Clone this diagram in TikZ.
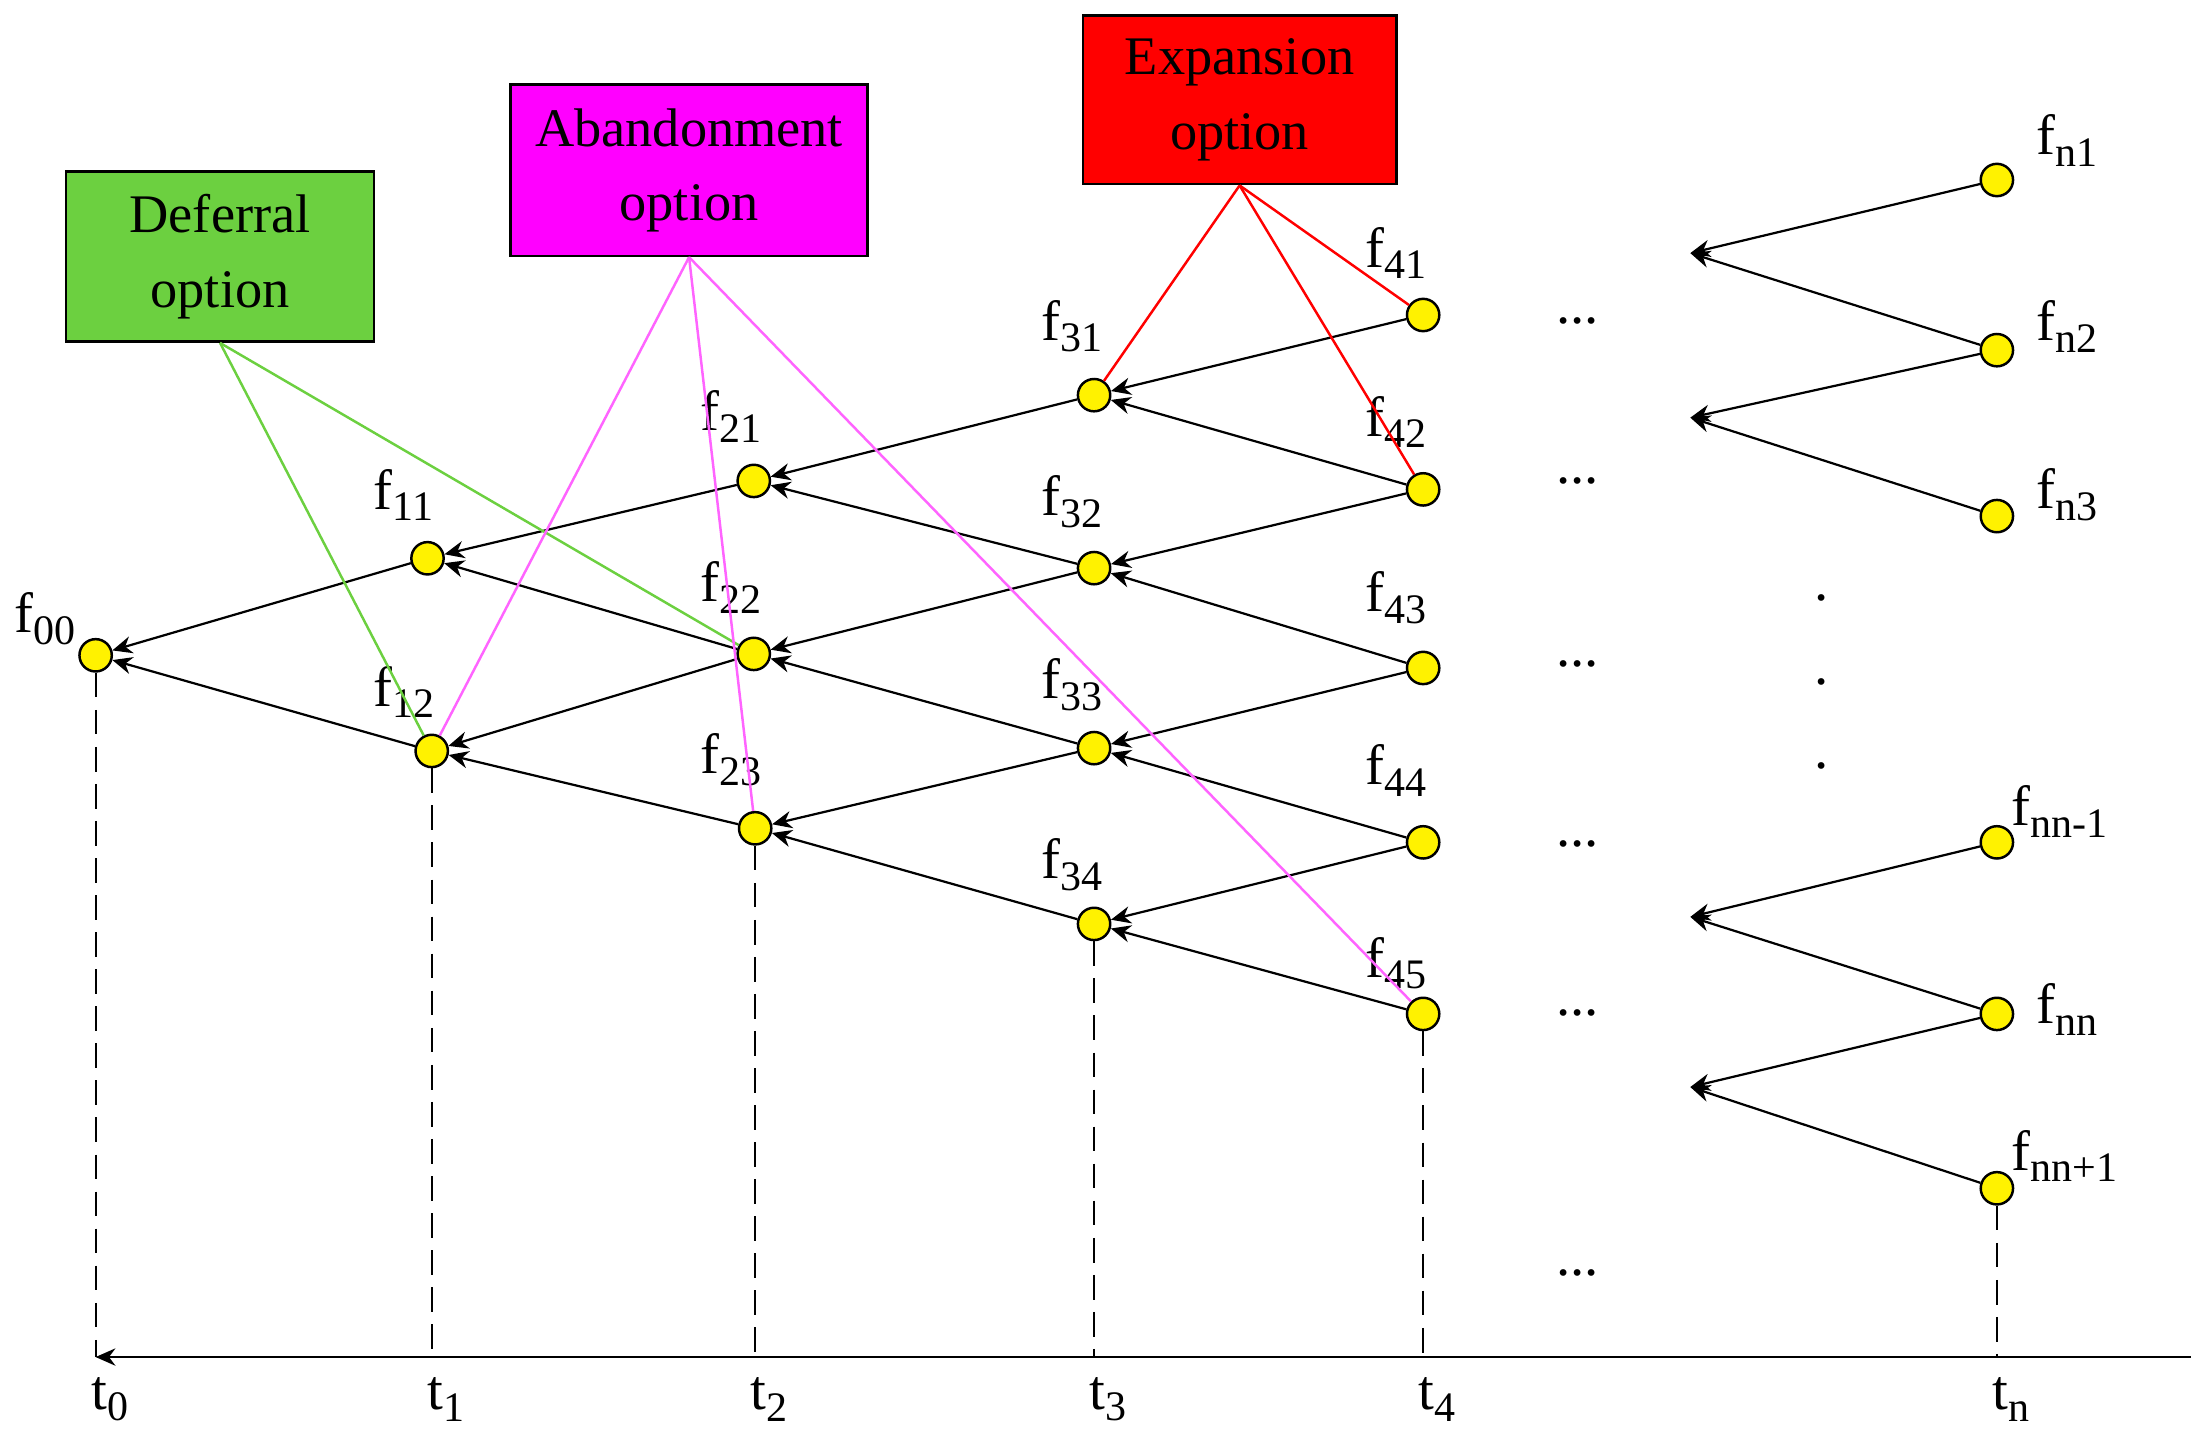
\documentclass[tikz,border=0pt]{standalone}
\usepackage{fontspec}
\setmainfont{Liberation Serif}
\usetikzlibrary{arrows.meta}
\newcommand{\ff}[1]{f\raisebox{-0.45ex}{\fontsize{17}{17}\selectfont #1}}
\newcommand{\tlab}[1]{t\raisebox{-0.45ex}{\fontsize{17}{17}\selectfont #1}}
\begin{document}
\begin{tikzpicture}[x=0.02cm,y=-0.02cm,
  nd/.style={circle,draw,fill=yellow,minimum size=0.46cm,inner sep=0pt,line width=1pt},
  arr/.style={-{Stealth[length=8pt,width=7pt]},line width=0.9pt},
  lb/.style={font=\fontsize{23}{26}\selectfont,inner sep=0pt},
  box/.style={draw,line width=1pt,align=center,font=\fontsize{22}{30}\selectfont,inner sep=0pt},
  dsh/.style={dashed,dash pattern=on 10pt off 5pt,line width=0.8pt}]
\useasboundingbox (0,0) rectangle (1568,1027);
% nodes
\node[nd] (f00) at (68,466) {};
\node[nd] (f11) at (304,397) {}; \node[nd] (f12) at (307,534) {};
\node[nd] (f21) at (536,342) {}; \node[nd] (f22) at (536,465) {}; \node[nd] (f23) at (537,589) {};
\node[nd] (f31) at (778,281) {}; \node[nd] (f32) at (778,404) {}; \node[nd] (f33) at (778,532) {}; \node[nd] (f34) at (778,657) {};
\node[nd] (f41) at (1012,224) {}; \node[nd] (f42) at (1012,348) {}; \node[nd] (f43) at (1012,475) {}; \node[nd] (f44) at (1012,599) {}; \node[nd] (f45) at (1012,721) {};
\node[nd] (fn1) at (1420,128) {}; \node[nd] (fn2) at (1420,249) {}; \node[nd] (fn3) at (1420,367) {};
\node[nd] (fnm) at (1420,599) {}; \node[nd] (fnn) at (1420,721) {}; \node[nd] (fnp) at (1420,845) {};
\coordinate (a1) at (1202,180); \coordinate (a2) at (1202,297);
\coordinate (a3) at (1202,652); \coordinate (a4) at (1202,773);
% arrows
\foreach \s/\t in {f11/f00,f12/f00,f21/f11,f22/f11,f22/f12,f23/f12,
  f31/f21,f32/f21,f32/f22,f33/f22,f33/f23,f34/f23,
  f41/f31,f42/f31,f42/f32,f43/f32,f43/f33,f44/f33,f44/f34,f45/f34}
  \draw[arr] (\s) -- (\t);
\draw[arr] (fn1) -- (a1); \draw[arr] (fn2) -- (a1); \draw[arr] (fn2) -- (a2); \draw[arr] (fn3) -- (a2);
\draw[arr] (fnm) -- (a3); \draw[arr] (fnn) -- (a3); \draw[arr] (fnn) -- (a4); \draw[arr] (fnp) -- (a4);
% axis
\coordinate (ax0) at (68,965); \coordinate (axe) at (1558,965);
\draw[arr] (axe) -- (ax0);
\foreach \n/\x in {f00/68,f12/307,f23/537,f34/778,f45/1012,fnp/1420}
  {\coordinate (b\n) at (\x,965); \draw[dsh] (\n) -- (b\n);}
\foreach \l/\x in {0/68,1/307,2/537,3/778,4/1012,n/1420}
  \node[lb] (t\l) at (\x+10,995) {\tlab{\l}};
% labels
\node[lb] (l00) at (32,440) {\ff{00}};
\node[lb] (l11) at (287,352) {\ff{11}}; \node[lb] (l12) at (287,492) {\ff{12}};
\node[lb] (l21) at (520,296) {\ff{21}}; \node[lb] (l22) at (520,418) {\ff{22}}; \node[lb] (l23) at (520,540) {\ff{23}};
\node[lb] (l31) at (762,232) {\ff{31}}; \node[lb] (l32) at (762,357) {\ff{32}}; \node[lb] (l33) at (762,487) {\ff{33}}; \node[lb] (l34) at (762,615) {\ff{34}};
\node[lb] (l41) at (993,180) {\ff{41}}; \node[lb] (l42) at (993,300) {\ff{42}}; \node[lb] (l43) at (993,425) {\ff{43}}; \node[lb] (l44) at (993,548) {\ff{44}}; \node[lb] (l45) at (993,685) {\ff{45}};
\node[lb,anchor=west] (ln1) at (1448,100) {\ff{n1}};
\node[lb,anchor=west] (ln2) at (1448,232) {\ff{n2}};
\node[lb,anchor=west] (ln3) at (1448,352) {\ff{n3}};
\node[lb,anchor=west] (lnm) at (1430,577) {\ff{nn-1}};
\node[lb,anchor=west] (lnn) at (1448,718) {\ff{nn}};
\node[lb,anchor=west] (lnp) at (1430,822) {\ff{nn+1}};
\foreach \y [count=\i] in {228,342,472,600,720,905}
  \node[lb] (d\i) at (1122,\y) {...};
\foreach \y [count=\i] in {425,485,545}
  \node[lb] (v\i) at (1295,\y) {.};
% boxes
\node[box,fill={rgb,255:red,108;green,208;blue,64},minimum width=4.38cm,minimum height=2.42cm] (def) at (156.5,182.5) {Deferral\\option};
\node[box,fill={rgb,255:red,255;green,0;blue,255},minimum width=5.08cm,minimum height=2.44cm] (aba) at (490,121) {Abandonment\\option};
\node[box,fill={rgb,255:red,255;green,0;blue,0},minimum width=4.46cm,minimum height=2.4cm] (exp) at (881.5,71) {Expansion\\option};
\draw[line width=1pt,color={rgb,255:red,108;green,208;blue,64}] (def.south) -- (f12); \draw[line width=1pt,color={rgb,255:red,108;green,208;blue,64}] (def.south) -- (f22);
\foreach \t in {f12,f23,f45} \draw[line width=1pt,color={rgb,255:red,255;green,100;blue,255}] (aba.south) -- (\t);
\foreach \t in {f31,f41,f42} \draw[line width=1pt,red] (exp.south) -- (\t);
\end{tikzpicture}
\end{document}
